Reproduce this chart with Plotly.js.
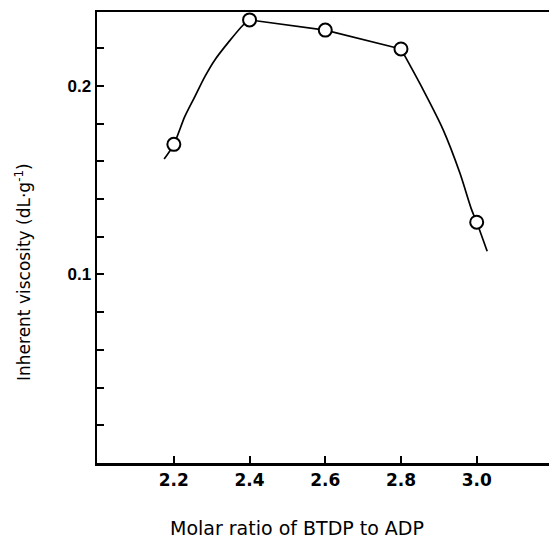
<!DOCTYPE html>
<html>
<head>
<meta charset="utf-8">
<script src="https://cdn.plot.ly/plotly-3.0.1.min.js"></script>
<style>html,body{margin:0;padding:0;background:#fff;}#chart{width:549px;height:543px;}</style>
</head>
<body>
<div id="chart"></div>
<script>
// Measured data points
const ratio = [2.2, 2.4, 2.6, 2.8, 3.0];
const viscosity = [0.169, 0.235, 0.2296, 0.2196, 0.1277];

// Hand-drawn curve, in three pieces
const leftArcX = [2.1744, 2.2, 2.2291, 2.2555, 2.2819, 2.3083, 2.3831, 2.4];
const leftArcY = [0.1612, 0.169, 0.1838, 0.1943, 0.2049, 0.2138, 0.2323, 0.235];
const middleX = [2.4, 2.6, 2.8];
const middleY = [0.235, 0.2296, 0.2196];
const rightArcX = [2.8, 2.8587, 2.9115, 2.9556, 2.9865, 3.0, 3.0277];
const rightArcY = [0.2196, 0.1979, 0.1767, 0.1538, 0.1344, 0.1277, 0.1123];

// Tick marks and labels
const xTickVals = [2.2, 2.4, 2.6, 2.8, 3.0];
const xTickText = ['2.2', '2.4', '2.6', '2.8', '3.0'];
const yTickVals = [0.02, 0.04, 0.06, 0.08, 0.10, 0.12, 0.14, 0.16, 0.18, 0.20, 0.22];
const yTickText = ['', '', '', '', '0.1', '', '', '', '', '0.2', ''];

const xTitle = 'Molar ratio of BTDP to ADP';
const yTitle = 'Inherent viscosity (dL·g<sup>-1</sup>)';

function curve(x, y, shape) {
  return {x: x, y: y, type: 'scatter', mode: 'lines',
    line: {color: '#000', width: 1.7, shape: shape, smoothing: 0.8},
    hoverinfo: 'skip', showlegend: false};
}

const traces = [
  curve(leftArcX, leftArcY, 'spline'),
  curve(middleX, middleY, 'linear'),
  curve(rightArcX, rightArcY, 'spline'),
  {
    x: ratio, y: viscosity, type: 'scatter', mode: 'markers',
    marker: {symbol: 'circle', size: 13, color: '#fff', line: {color: '#000', width: 2}},
    showlegend: false, cliponaxis: false
  }
];

const layout = {
  width: 549, height: 543,
  margin: {l: 97, r: 0, t: 12, b: 80},
  paper_bgcolor: '#fff', plot_bgcolor: '#fff',
  showlegend: false,
  xaxis: {
    range: [1.997, 3.191],
    tickvals: xTickVals, ticktext: xTickText,
    ticks: 'inside', ticklen: 7, tickwidth: 2, tickcolor: '#000',
    showline: true, linecolor: '#000', linewidth: 2.5, mirror: true,
    showgrid: false, zeroline: false,
    tickfont: {family: 'DejaVu Sans', size: 17, color: '#000', weight: 'bold'}
  },
  yaxis: {
    range: [0, 0.2392],
    tickvals: yTickVals, ticktext: yTickText,
    ticks: 'inside', ticklen: 7, tickwidth: 2, tickcolor: '#000',
    showline: true, linecolor: '#000', linewidth: 2.5,
    showgrid: false, zeroline: false,
    tickfont: {family: 'Liberation Sans', size: 17, color: '#000', weight: 'bold'}
  },
  annotations: [
    {text: xTitle, xref: 'paper', yref: 'paper',
     x: (297 - 97) / 452, y: -(528 - 463) / 451, xanchor: 'center', yanchor: 'middle',
     showarrow: false, font: {family: 'DejaVu Sans', size: 19, color: '#000'}},
    {text: yTitle, xref: 'paper', yref: 'paper', textangle: -90,
     x: -(97 - 23) / 452, y: (463 - 272) / 451, xanchor: 'center', yanchor: 'middle',
     showarrow: false, font: {family: 'DejaVu Sans', size: 17, color: '#000'}}
  ]
};

Plotly.newPlot('chart', traces, layout, {displayModeBar: false, staticPlot: true});
</script>
</body>
</html>
